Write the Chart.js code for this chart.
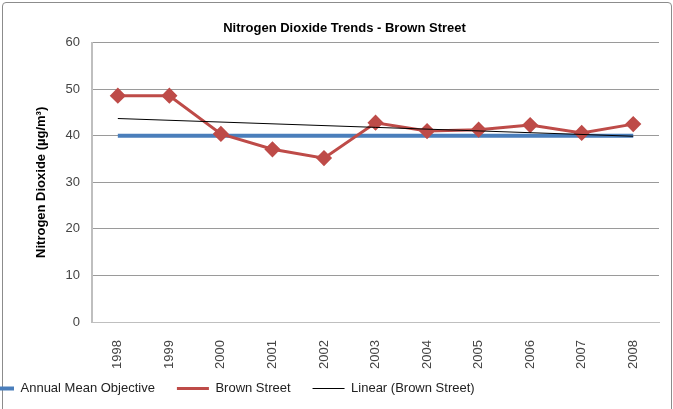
<!DOCTYPE html>
<html>
<head>
<meta charset="utf-8">
<script src="https://cdn.jsdelivr.net/npm/chart.js@4/dist/chart.umd.min.js"></script>
<style>
  html, body { margin: 0; padding: 0; background: #fff; }
  #frame { position: absolute; left: 2px; top: 2px; width: 668px; height: 420px; border: 1px solid #8c8c8c; border-radius: 4px; }
  #wrap { position: absolute; left: 0; top: 0; width: 673px; height: 409px; }
</style>
</head>
<body>
<div id="frame"></div>
<div id="wrap"><canvas id="chart"></canvas></div>
<script>
// values
var years = ['1998', '1999', '2000', '2001', '2002', '2003', '2004', '2005', '2006', '2007', '2008'];
var objective = [40, 40, 40, 40, 40, 40, 40, 40, 40, 40, 40];
var brownStreet = [48.6, 48.6, 40.4, 37.1, 35.2, 42.8, 41.0, 41.3, 42.3, 40.6, 42.5];
var trend = [43.7, null, null, null, null, null, null, null, null, null, 39.9];
var yTicks = [0, 10, 20, 30, 40, 50, 60];

var font = "'Liberation Sans', Arial, sans-serif";

// the Excel legend sits low and hugs the left edge; nudge Chart.js's legend box to match
var legendNudge = {
    id: 'legendNudge',
    afterInit: function (chart) {
        var legend = chart.legend;
        var fit = legend.fit;
        legend.fit = function () {
            fit.call(this);
            this.height -= 25;
        };
    },
    afterLayout: function (chart) {
        var legend = chart.legend;
        legend.top -= 27;
        legend.left -= 70;
        legend.right -= 70;
    }
};

var myChart = new Chart(document.getElementById('chart'), {
    type: 'line',
    data: {
        labels: years,
        datasets: [
            {
                label: 'Annual Mean Objective',
                data: objective,
                borderColor: '#4a7ebb',
                backgroundColor: '#4a7ebb',
                borderWidth: 4,
                pointRadius: 0,
                order: 3
            },
            {
                label: 'Brown Street',
                data: brownStreet,
                borderColor: '#be4b48',
                backgroundColor: '#be4b48',
                borderWidth: 3,
                pointStyle: 'rectRot',
                pointRadius: 6,
                pointHoverRadius: 6,
                order: 2
            },
            {
                label: 'Linear (Brown Street)',
                data: trend,
                borderColor: '#000',
                backgroundColor: '#000',
                borderWidth: 1,
                pointRadius: 0,
                spanGaps: true,
                order: 1
            }
        ]
    },
    plugins: [legendNudge],
    options: {
        responsive: true,
        maintainAspectRatio: false,
        animation: false,
        events: [],
        layout: { padding: { left: 30, right: 14, top: 15, bottom: 2 } },
        plugins: {
            title: {
                display: true,
                text: 'Nitrogen Dioxide Trends - Brown Street',
                color: '#000',
                font: { family: font, size: 13, weight: 'bold' },
                padding: { top: 6, bottom: 6 }
            },
            legend: {
                position: 'bottom',
                align: 'start',
                labels: {
                    usePointStyle: true,
                    pointStyle: 'line',
                    pointStyleWidth: 32,
                    boxHeight: 10,
                    color: '#222',
                    padding: 22,
                    font: { family: font, size: 13 },
                    sort: function (a, b) { return a.datasetIndex - b.datasetIndex; }
                }
            },
            tooltip: { enabled: false }
        },
        scales: {
            x: {
                offset: true,
                grid: { display: false, drawTicks: false },
                border: { color: '#bfbfbf' },
                ticks: {
                    color: '#444',
                    font: { family: font, size: 13 },
                    maxRotation: 90,
                    minRotation: 90,
                    padding: 18
                }
            },
            y: {
                min: 0,
                max: 60,
                afterBuildTicks: function (axis) {
                    axis.ticks = yTicks.map(function (v) { return { value: v }; });
                },
                grid: { color: '#9a9a9a', drawTicks: false },
                border: { color: '#bfbfbf', width: 2 },
                ticks: {
                    color: '#444',
                    font: { family: font, size: 13 },
                    padding: 12
                },
                title: {
                    display: true,
                    text: 'Nitrogen Dioxide (µg/m³)',
                    color: '#000',
                    font: { family: font, size: 13, weight: 'bold' },
                    padding: { bottom: 4 }
                }
            }
        }
    }
});
</script>
</body>
</html>
